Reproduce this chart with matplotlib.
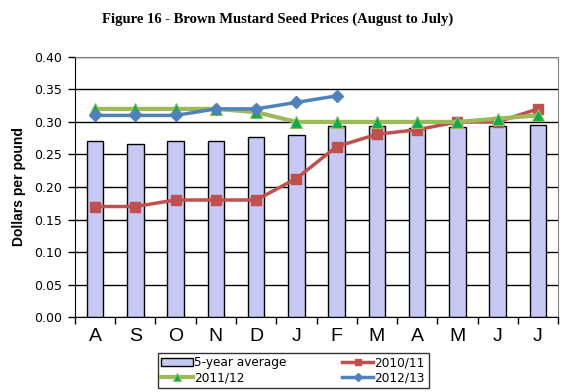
import numpy as np
import matplotlib
matplotlib.use('Agg')
import matplotlib.pyplot as plt

# month labels (August to July)
months = ['A', 'S', 'O', 'N', 'D', 'J', 'F', 'M', 'A', 'M', 'J', 'J']

# 5-year average (bars)
avg5 = [0.270, 0.266, 0.270, 0.270, 0.277, 0.280, 0.293, 0.293, 0.290, 0.292, 0.293, 0.295]
# yearly price series
y2010 = [0.17, 0.17, 0.18, 0.18, 0.18, 0.213, 0.262, 0.281, 0.288, 0.30, 0.30, 0.32]
y2011 = [0.32, 0.32, 0.32, 0.32, 0.315, 0.30, 0.30, 0.30, 0.30, 0.30, 0.305, 0.31]
y2012 = [0.31, 0.31, 0.31, 0.32, 0.32, 0.33, 0.34]

x = np.arange(len(months))

fig = plt.figure(figsize=(5.76, 3.92), dpi=100)
ax = fig.add_axes([0.130, 0.191, 0.839, 0.664])

# gridlines behind everything
ax.set_axisbelow(True)
ax.yaxis.grid(True, color='black', linewidth=1.0)

bars = ax.bar(x, avg5, width=0.41, color='#C8C8F5', edgecolor='black',
              linewidth=1.0, zorder=2, label='5-year average')
l1, = ax.plot(x, y2010, color='#C0504D', linewidth=2.5, marker='s',
              markersize=7, zorder=3, label='2010/11')
l2, = ax.plot(x, y2011, color='#9BBB59', linewidth=3, marker='^',
              markersize=9, markerfacecolor='#00B050',
              markeredgecolor='#9BBB59', markeredgewidth=0.8, zorder=4,
              label='2011/12')
l3, = ax.plot(x[:len(y2012)], y2012, color='#4F81BD', linewidth=2.5,
              marker='D', markersize=6, zorder=5, label='2012/13')

ax.set_xlim(-0.5, len(months) - 0.5)
ax.set_ylim(0, 0.40)
ax.set_yticks(np.arange(0, 0.41, 0.05))
ax.set_yticklabels(['%.2f' % v for v in np.arange(0, 0.41, 0.05)],
                   fontsize=9, family='DejaVu Sans')

# category ticks between months, labels centered
ax.set_xticks(np.arange(-0.5, len(months), 1.0))
ax.set_xticklabels([])
ax.set_xticks(x, minor=True)
ax.set_xticklabels(months, minor=True, fontsize=14, family='Liberation Sans')
ax.tick_params(axis='x', which='major', direction='out', length=5,
               width=1, color='black')
ax.tick_params(axis='x', which='minor', length=0, pad=8)
ax.tick_params(axis='y', direction='out', length=5, width=1, color='black',
               pad=4)

ax.spines['left'].set_color('black')
ax.spines['bottom'].set_color('black')
ax.spines['top'].set_color('#808080')
ax.spines['right'].set_color('#808080')

ax.set_ylabel('Dollars per pound', fontsize=10, fontweight='bold',
              family='Liberation Sans', labelpad=6)

fig.text(0.482, 0.950, 'Figure 16 - Brown Mustard Seed Prices (August to July)',
         ha='center', va='center', fontsize=10.5, fontweight='bold',
         family='Liberation Serif')

leg = fig.legend([bars, l2, l1, l3],
                 ['5-year average', '2011/12', '2010/11', '2012/13'],
                 ncol=2, loc='center', bbox_to_anchor=(0.509, 0.055),
                 prop={'family': 'DejaVu Sans', 'size': 8.7},
                 frameon=True, fancybox=False, edgecolor='black',
                 handlelength=2.6, handletextpad=0.1, columnspacing=4.6,
                 labelspacing=0.2, borderpad=0.3, markerscale=0.7)
leg.get_frame().set_linewidth(1.0)

fig.savefig('out.png', dpi=100)
